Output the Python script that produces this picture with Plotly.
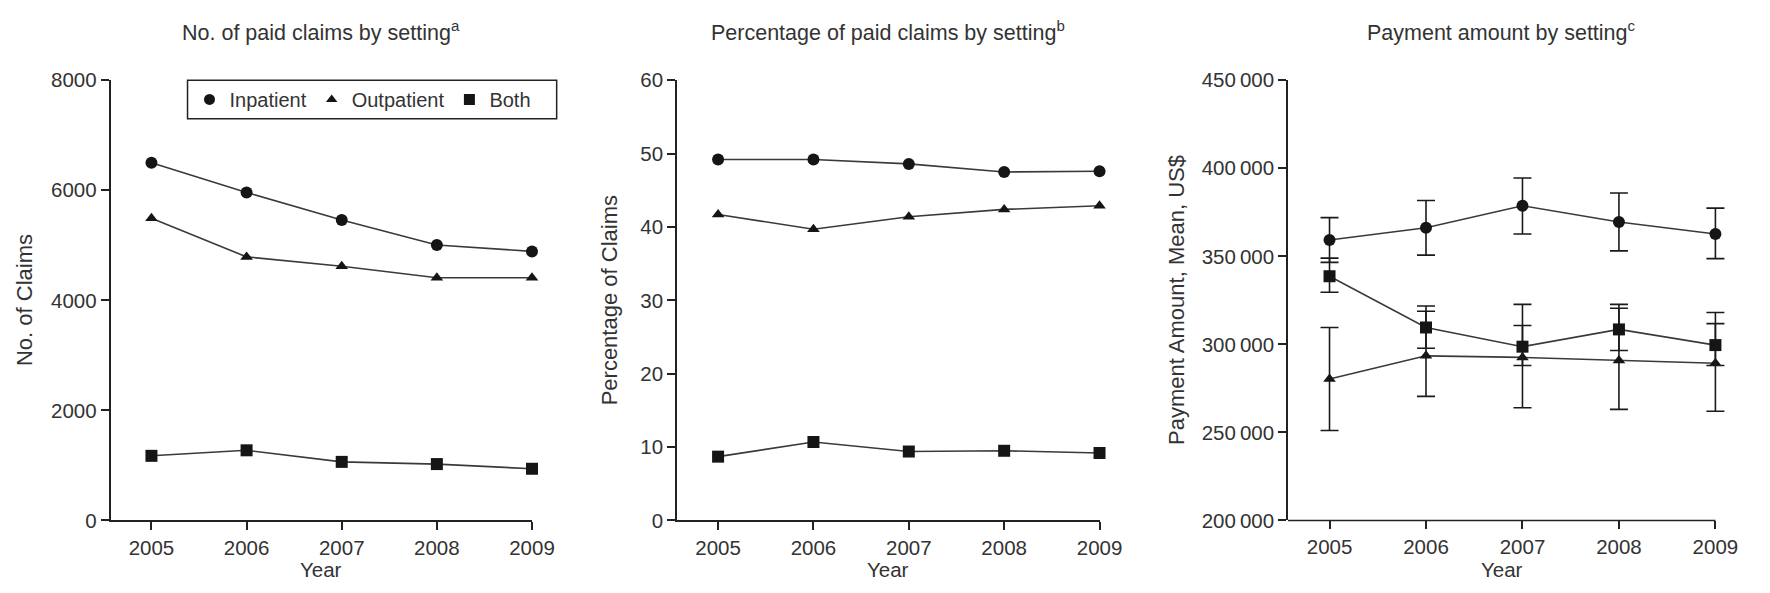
import plotly.graph_objects as go

years = [2005, 2006, 2007, 2008, 2009]

# Panel A: number of paid claims
claims_inpatient = [6500, 5960, 5460, 5005, 4890]
claims_outpatient = [5490, 4790, 4620, 4410, 4410]
claims_both = [1175, 1275, 1065, 1025, 940]

# Panel B: percentage of paid claims
pct_inpatient = [49.2, 49.2, 48.6, 47.5, 47.6]
pct_outpatient = [41.7, 39.7, 41.4, 42.4, 42.9]
pct_both = [8.7, 10.7, 9.4, 9.5, 9.2]

# Panel C: mean payment amount (US$) with error bars
pay_inpatient = [359300, 366200, 378700, 369500, 362700]
pay_inpatient_up = [12700, 15500, 15800, 16500, 14700]
pay_inpatient_dn = [12700, 15500, 16000, 16400, 14000]
pay_outpatient = [280300, 293500, 292600, 290800, 289300]
pay_outpatient_up = [29300, 25300, 30100, 31900, 28800]
pay_outpatient_dn = [29200, 23000, 28600, 27700, 27300]
pay_both = [338700, 309600, 298700, 308500, 299600]
pay_both_up = [10300, 12200, 12000, 12000, 12200]
pay_both_dn = [9100, 11800, 10700, 12000, 11600]

series_names = ["Inpatient", "Outpatient", "Both"]
symbols = ["circle", "triangle-up", "square"]
marker_sizes = [12, 11, 12]

titles = ["No. of paid claims by setting<sup>a</sup>",
          "Percentage of paid claims by setting<sup>b</sup>",
          "Payment amount by setting<sup>c</sup>"]
ytitles = ["No. of Claims", "Percentage of Claims", "Payment Amount, Mean, US$"]

y_ticks = [[0, 2000, 4000, 6000, 8000],
           [0, 10, 20, 30, 40, 50, 60],
           [200000, 250000, 300000, 350000, 400000, 450000]]
y_ticktext = [["0", "2000", "4000", "6000", "8000"],
              ["0", "10", "20", "30", "40", "50", "60"],
              ["200\u2009000", "250\u2009000", "300\u2009000", "350\u2009000", "400\u2009000", "450\u2009000"]]
y_ranges = [[0, 8000], [0, 60], [200000, 450000]]
x_start = 2004.57
x_pad = [0.0, 0.0, 0.14]  # extra room right of 2009 (panel 3 keeps error caps whole)

W, H = 1770, 593
FONT = "Liberation Sans, Arial, Helvetica, sans-serif"
TXT = "#333333"
AX = "#222222"
LINE = "#3a3a3a"
MK = "#151515"

# pixel layout: (y-axis x position, 2009 tick x position)
x_px = [(112, 539), (686, 1114), (1305, 1738)]
y_top, y_bot = 71, 529
ytitle_x = [25, 617, 1192]

fig = go.Figure()

panel_data = [
    [(claims_inpatient, None, None), (claims_outpatient, None, None), (claims_both, None, None)],
    [(pct_inpatient, None, None), (pct_outpatient, None, None), (pct_both, None, None)],
    [(pay_inpatient, pay_inpatient_up, pay_inpatient_dn),
     (pay_outpatient, pay_outpatient_up, pay_outpatient_dn),
     (pay_both, pay_both_up, pay_both_dn)],
]

for p in range(3):
    xa = "x" if p == 0 else f"x{p+1}"
    ya = "y" if p == 0 else f"y{p+1}"
    for s in range(3):
        vals, up, dn = panel_data[p][s]
        err = None
        if up is not None:
            err = dict(type="data", symmetric=False, array=up, arrayminus=dn,
                       color="#1a1a1a", thickness=1.6, width=9)
        fig.add_trace(go.Scatter(
            x=years, y=vals, mode="lines+markers", xaxis=xa, yaxis=ya,
            name=series_names[s], showlegend=False, cliponaxis=False,
            line=dict(color=LINE, width=1.6),
            marker=dict(symbol=symbols[s], size=marker_sizes[s], color=MK,
                        line=dict(width=0)),
            error_y=err,
        ))

# legend-only marker traces
for s in range(3):
    fig.add_trace(go.Scatter(
        x=[None], y=[None], mode="markers", name=series_names[s],
        marker=dict(symbol=symbols[s], size=marker_sizes[s] - 1, color=MK),
        xaxis="x", yaxis="y", showlegend=True,
    ))

ydom = [(H - y_bot) / H, (H - y_top) / H]
legend_box = (190, 71, 564, 111)  # px: left, top, right, bottom
layout = dict(
    width=W, height=H,
    margin=dict(l=0, r=0, t=0, b=0),
    paper_bgcolor="white", plot_bgcolor="white",
    font=dict(family=FONT, size=20, color=TXT),
    showlegend=True,
    legend=dict(orientation="h", x=(legend_box[0] + 2) / W,
                y=(H - (legend_box[1] + legend_box[3]) / 2) / H,
                xanchor="left", yanchor="middle",
                borderwidth=0, bgcolor="rgba(0,0,0,0)",
                font=dict(size=20, color=TXT), itemwidth=30,
                tracegroupgap=0),
)
annotations = []
shapes = [dict(type="rect", xref="paper", yref="paper",
               x0=legend_box[0] / W, x1=legend_box[2] / W,
               y0=(H - legend_box[3]) / H, y1=(H - legend_box[1]) / H,
               line=dict(color=AX, width=1.5), fillcolor="rgba(0,0,0,0)", layer="above")]
for p in range(3):
    sfx = "" if p == 0 else str(p + 1)
    x0, x1 = x_px[p]
    span = years[-1] - x_start
    px_per_year = (x1 - x0) / span
    right_px = x1 + x_pad[p] * px_per_year
    layout[f"xaxis{sfx}"] = dict(
        domain=[x0 / W, right_px / W], anchor=f"y{sfx}",
        range=[x_start, years[-1] + x_pad[p]],
        tickvals=years, ticktext=[str(y) for y in years],
        showline=(x_pad[p] == 0), linecolor=AX, linewidth=1.6,
        ticks="outside", ticklen=8, tickwidth=1.5, tickcolor=AX,
        showgrid=False, zeroline=False, tickfont=dict(size=20.5, color=TXT),
    )
    if x_pad[p] > 0:
        shapes.append(dict(type="line", xref=f"x{sfx}", yref=f"y{sfx} domain",
                           x0=x_start, x1=years[-1], y0=0, y1=0,
                           line=dict(color=AX, width=1.6)))
    layout[f"yaxis{sfx}"] = dict(
        domain=ydom, anchor=f"x{sfx}", range=y_ranges[p],
        tickvals=y_ticks[p], ticktext=y_ticktext[p],
        showline=True, linecolor=AX, linewidth=1.6,
        ticks="outside", ticklen=8, tickwidth=1.5, tickcolor=AX,
        showgrid=False, zeroline=False, tickfont=dict(size=20.5, color=TXT),
    )
    annotations.append(dict(text=titles[p], xref="paper", yref="paper",
                            x=(x0 + x1) / 2 / W, y=(H - 20) / H, xanchor="center", yanchor="middle",
                            showarrow=False, font=dict(size=21.5, color=TXT)))
    annotations.append(dict(text="Year", xref="paper", yref="paper",
                            x=(x0 + x1) / 2 / W, y=(H - 580) / H, xanchor="center", yanchor="middle",
                            showarrow=False, font=dict(size=20.5, color=TXT)))
    annotations.append(dict(text=ytitles[p], xref="paper", yref="paper", textangle=-90,
                            x=ytitle_x[p] / W, y=(H - (y_top + y_bot) / 2) / H,
                            xanchor="center", yanchor="middle",
                            showarrow=False, font=dict(size=22, color=TXT)))
layout["annotations"] = annotations
layout["shapes"] = shapes
fig.update_layout(**layout)

fig.write_html("out.html")
